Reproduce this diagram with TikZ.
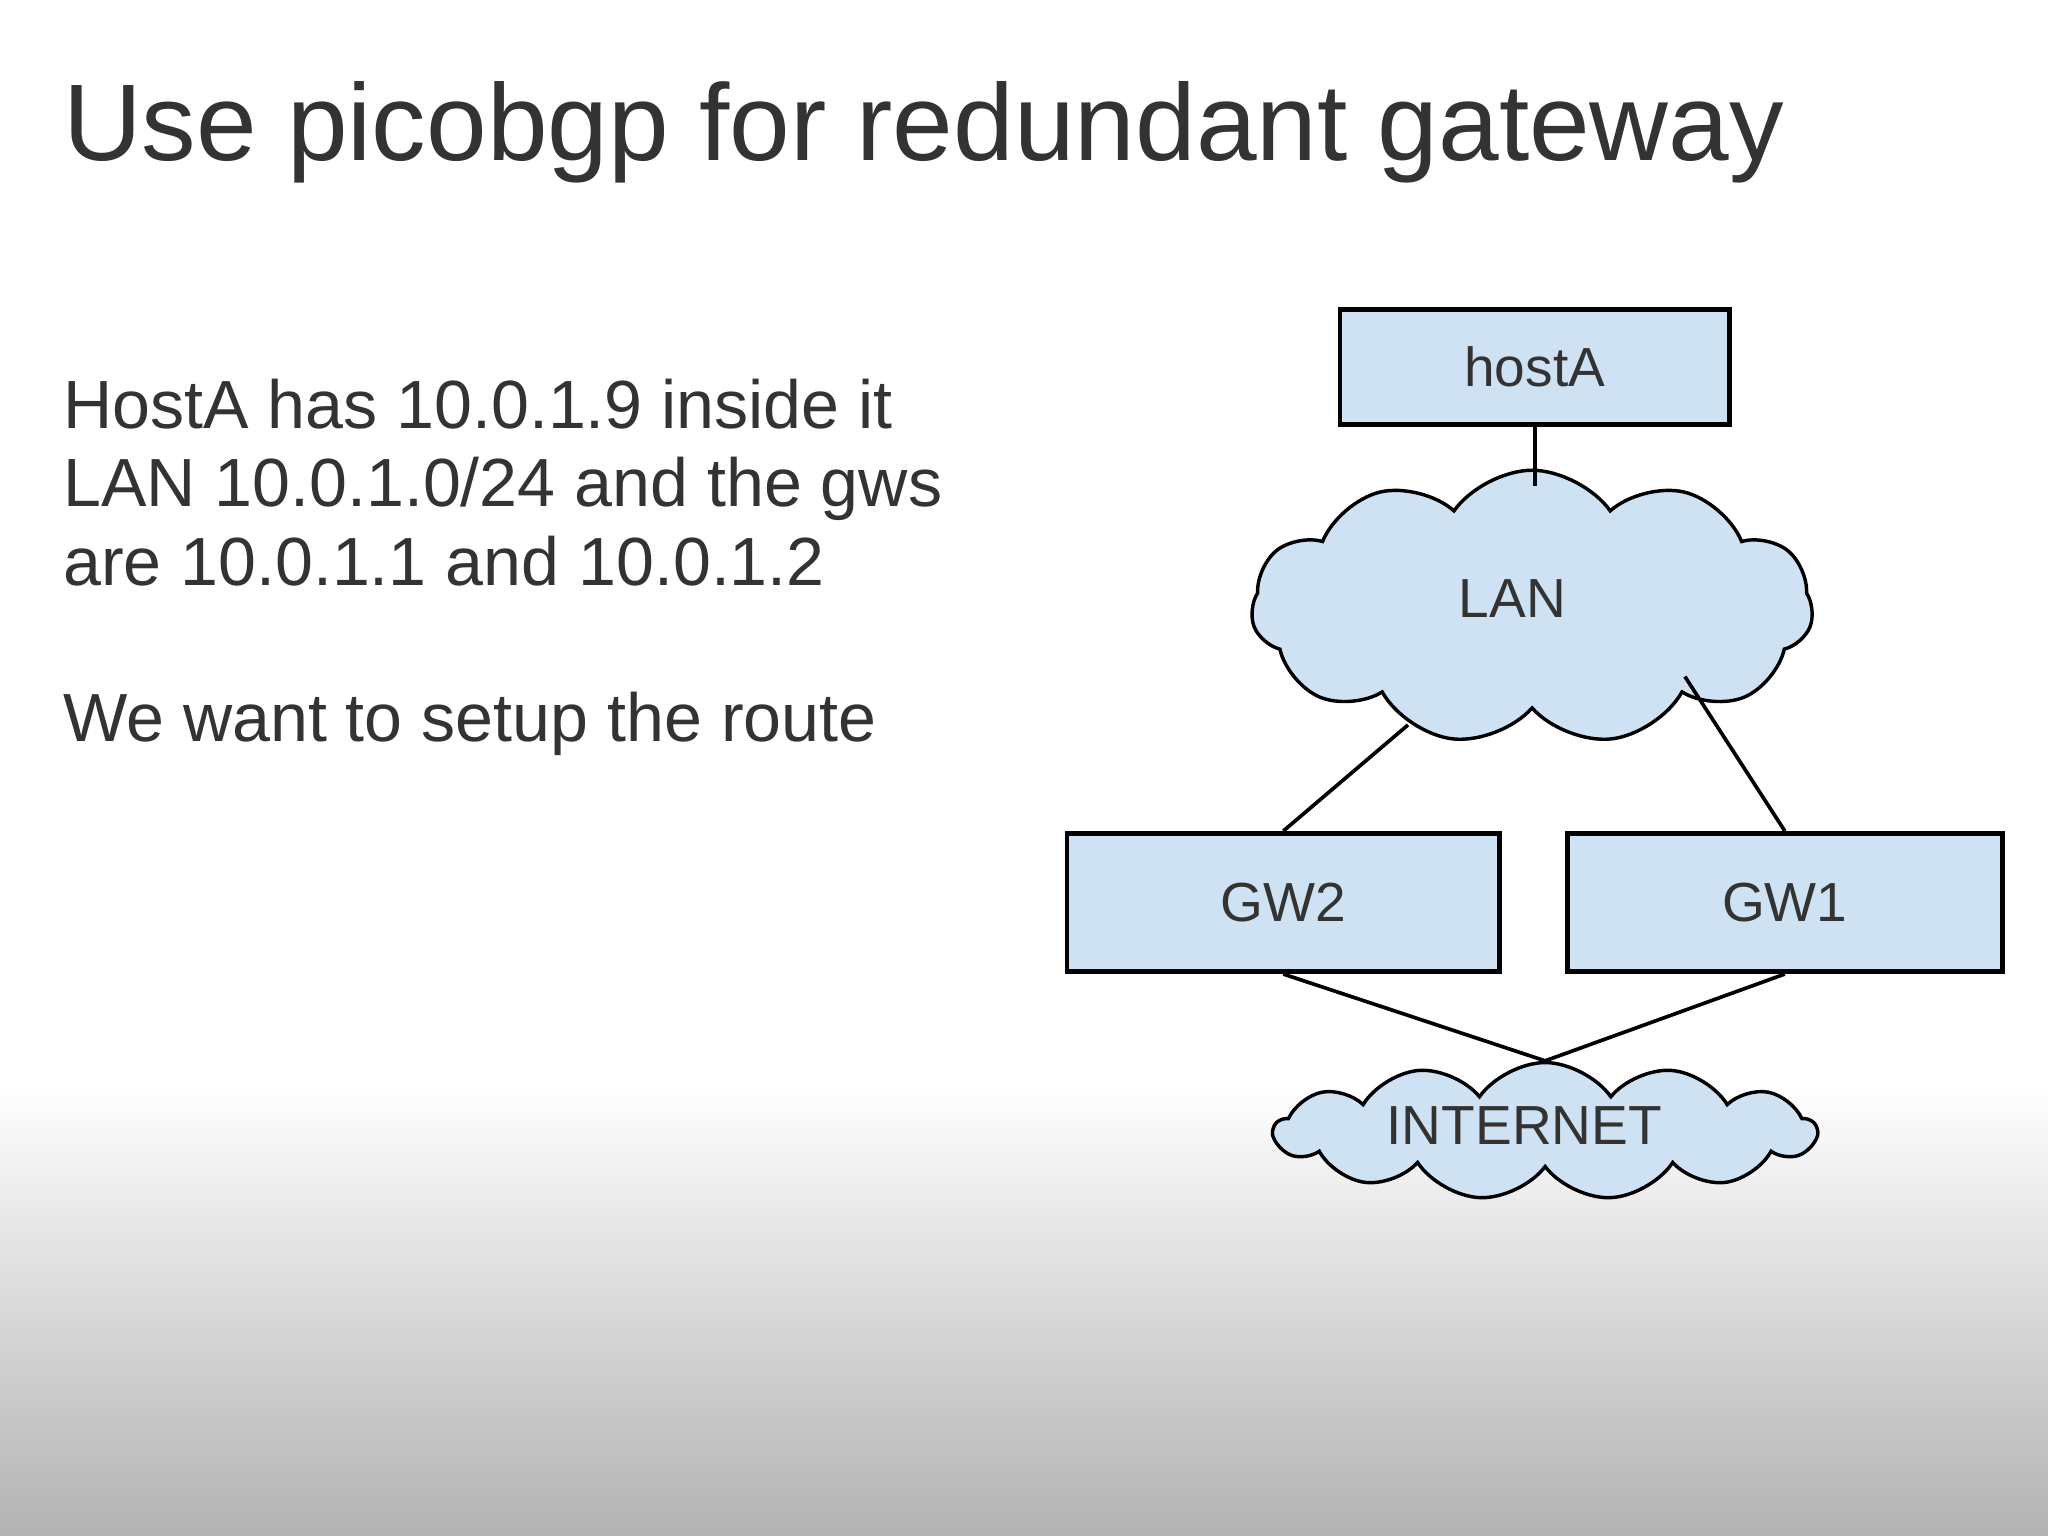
\documentclass[tikz,border=0pt]{standalone}
\usepackage{fontspec}
\setmainfont{Liberation Sans}
\usetikzlibrary{shapes.symbols}
\definecolor{boxfill}{HTML}{CFE2F3}
\definecolor{txt}{HTML}{333333}
\begin{document}
\begin{tikzpicture}[x=0.02cm,y=-0.02cm,
  box/.style={draw=black,line width=2pt,fill=boxfill,text=txt,font=\fontsize{24}{28}\selectfont,inner sep=0pt},
  cl/.style={cloud,draw=black,line width=1.5pt,fill=boxfill,text=txt,font=\fontsize{24}{28}\selectfont,inner sep=0pt},
  link/.style={line width=1.6pt,black},
  body/.style={anchor=base west,text=txt,font=\fontsize{29.7}{36}\selectfont,inner sep=0pt}]
\useasboundingbox (0,0) rectangle (1568,1176);
\fill[white] (0,0) rectangle (1568,831);
\shade[top color=white,bottom color=black!30] (0,830) rectangle (1568,1176);
\node[anchor=base west,text=txt,font=\fontsize{47.5}{54}\selectfont,inner sep=0pt] (title) at (48,123) {Use picobgp for redundant gateway};
\node[body] (l1) at (48,328) {HostA has 10.0.1.9 inside it};
\node[body] (l2) at (48,388) {LAN 10.0.1.0/24 and the gws};
\node[body] (l3) at (48,448) {are 10.0.1.1 and 10.0.1.2};
\node[body] (l4) at (48,568) {We want to setup the route};
\node[cl,cloud puffs=11,cloud puff arc=110,minimum width=8.6cm,minimum height=4.2cm] (lan) at (1173,465) {};
\node[text=txt,font=\fontsize{24}{28}\selectfont] (lant) at (1158,458) {LAN};
\node[box,minimum width=5.96cm,minimum height=1.76cm] (hostA) at (1175,281) {hostA};
\node[box,minimum width=6.62cm,minimum height=2.12cm] (gw2) at (982.5,691) {GW2};
\node[box,minimum width=6.66cm,minimum height=2.12cm] (gw1) at (1366.5,691) {GW1};
\node[cl,cloud puffs=13,cloud puff arc=110,minimum width=8.3cm,minimum height=2.1cm,aspect=4] (inet) at (1183,866) {};
\node[text=txt,font=\fontsize{24}{28}\selectfont] (inett) at (1167,862) {INTERNET};
\coordinate (lantop) at (1175,372);
\coordinate (lanl) at (1078,555);
\coordinate (lanr) at (1290,518);
\draw[link] (hostA.south) -- (lantop);
\draw[link] (gw2.north) -- (lanl);
\draw[link] (gw1.north) -- (lanr);
\draw[link] (gw2.south) -- (inet.north);
\draw[link] (gw1.south) -- (inet.north);
\end{tikzpicture}
\end{document}
